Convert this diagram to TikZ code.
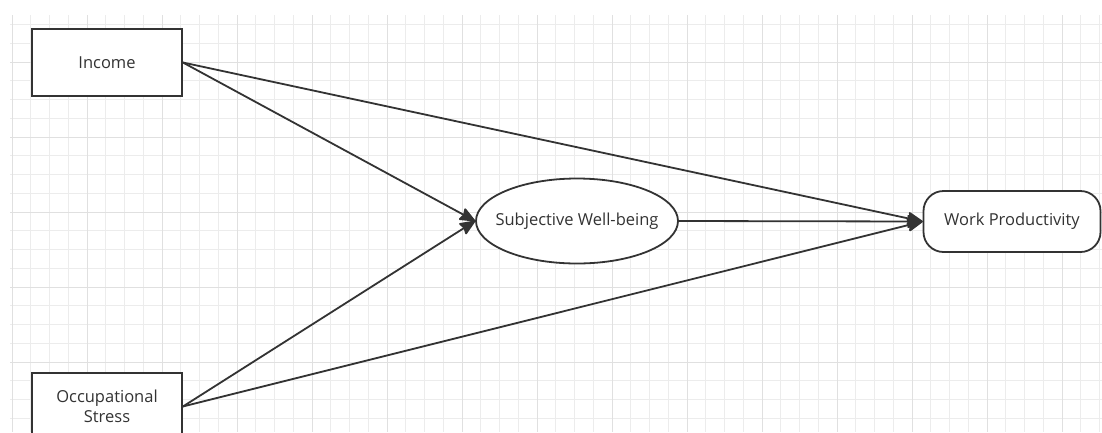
\documentclass[tikz,border=0pt]{standalone}
\usepackage{fontspec}
\setmainfont{Open Sans}
\usetikzlibrary{arrows.meta, shapes.geometric}
\definecolor{ink}{HTML}{333333}
\definecolor{gridminor}{HTML}{ECECEC}
\definecolor{gridmajor}{HTML}{E0E0E0}

\tikzset{
  boxfont/.style={text=ink, font=\fontsize{16.5}{19.5}\selectfont},
  varbox/.style={draw=ink, line width=1.8pt, fill=white, boxfont, minimum width=150, minimum height=67, align=center},
  medbox/.style={ellipse, draw=ink, line width=1.8pt, fill=white, minimum width=202, minimum height=85, inner sep=0pt},
  outbox/.style={draw=ink, line width=1.8pt, fill=white, boxfont, rounded corners=20, minimum width=177, minimum height=61},
  path/.style={draw=ink, line width=1.8pt, -{Stealth[length=17pt, width=14pt, inset=2pt, round]}}
}

\begin{document}
\begin{tikzpicture}[x=1pt, y=-1pt]
\clip (0,0) rectangle (1102,432);
\fill[white] (0,0) rectangle (1102,432);
% background grid
\foreach \i in {0,...,58}
	\draw[gridminor, line width=0.9pt] ({12+18.75*\i},15) -- ({12+18.75*\i},432);
\foreach \j in {0,...,21}
	\draw[gridminor, line width=0.9pt] (10,{24.5+18.75*\j}) -- (1102,{24.5+18.75*\j});
\foreach \i in {0,...,14}
	\draw[gridmajor, line width=0.9pt] ({12+75*\i},15) -- ({12+75*\i},432);
\foreach \j in {0,...,4}
	\draw[gridmajor, line width=0.9pt] (10,{62+75*\j}) -- (1102,{62+75*\j});

% variables
\node[varbox] (income) at (107,62.5) {Income};
\node[varbox] (stress) at (107,406.5) {Occupational\\Stress};
\node[medbox, label={[boxfont]center:Subjective Well-being}] (swb) at (577,221) {};
\node[outbox] (wp) at (1012,221.5) {Work Productivity};

% paths
\draw[path] (income.east) -- (swb.west);
\draw[path] (stress.east) -- (swb.west);
\draw[path] (income.east) -- (wp.west);
\draw[path] (stress.east) -- (wp.west);
\draw[path] (swb.east) -- (wp.west);
\end{tikzpicture}
\end{document}
